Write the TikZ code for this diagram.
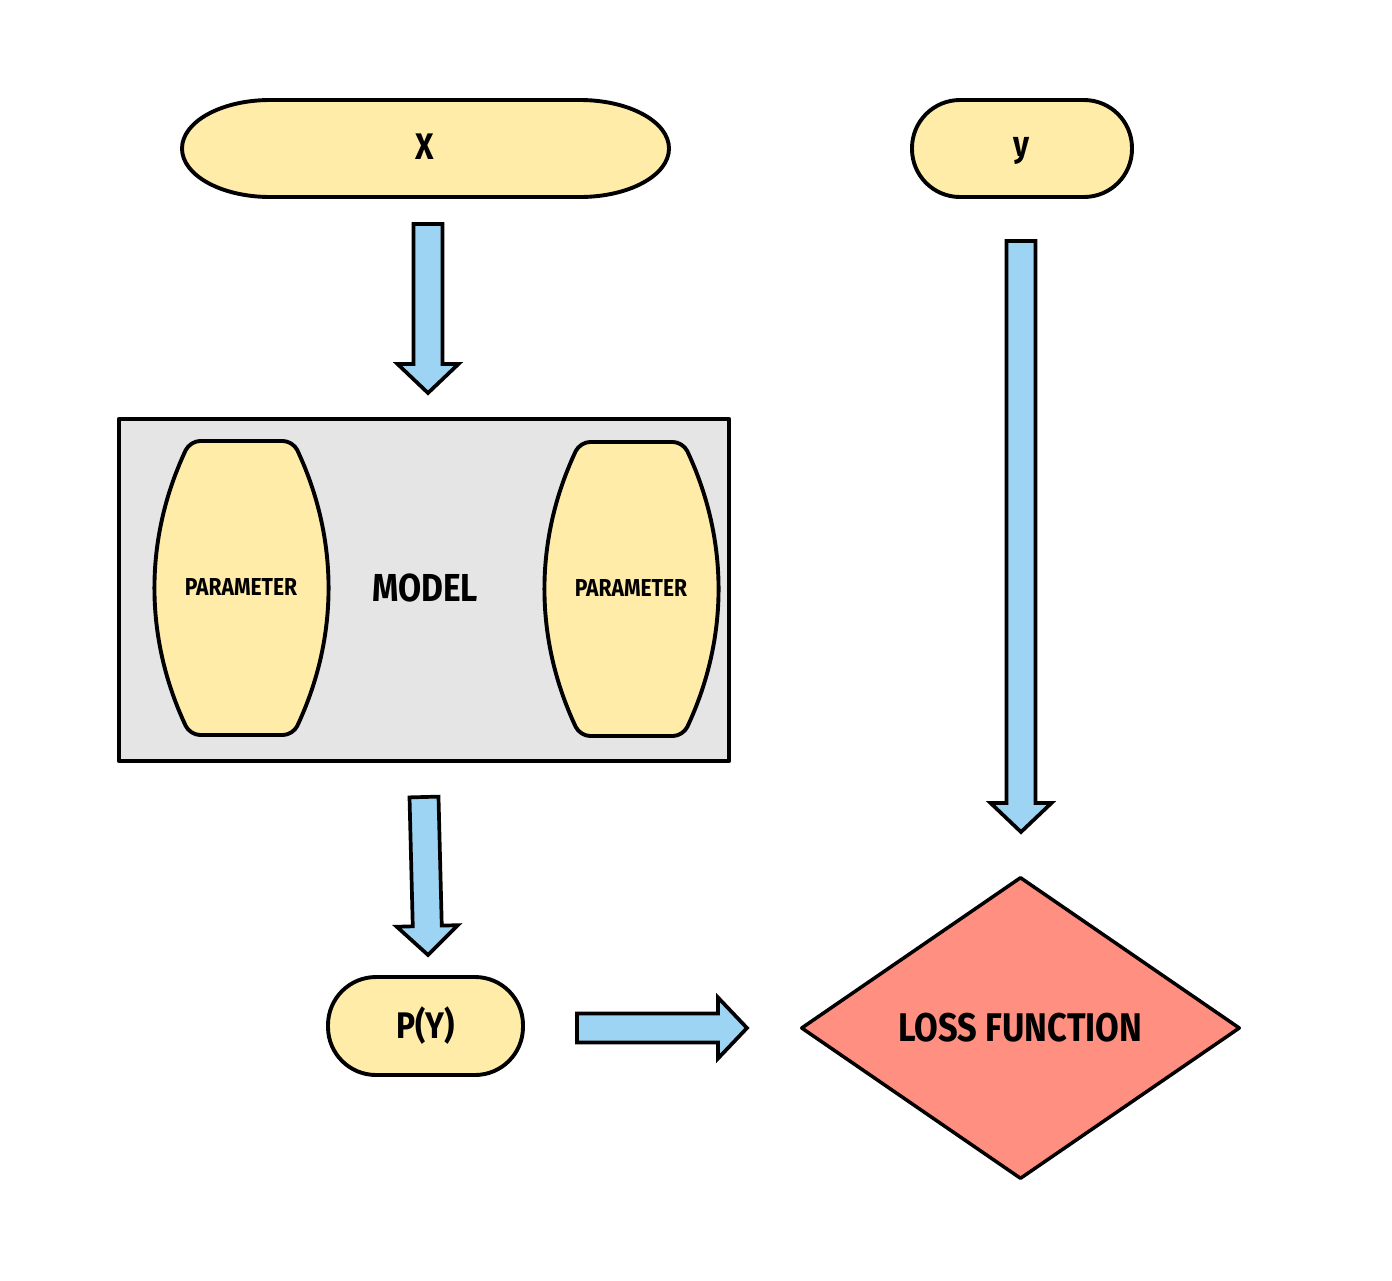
\documentclass[tikz,border=0pt]{standalone}
\usepackage{fontspec}
\setmainfont{Fira Sans}[FakeStretch=0.86]
\usetikzlibrary{shapes.geometric}
\definecolor{termfill}{HTML}{FFECA9}
\definecolor{modelfill}{HTML}{E5E5E5}
\definecolor{lossfill}{HTML}{FF8F80}
\definecolor{arrowfill}{HTML}{9DD3F3}
\tikzset{
  outline/.style={draw=black, line width=3.9pt, line join=round},
  termnode/.style={outline, fill=termfill},
  barrowstyle/.style={draw=black, line width=3.7pt, fill=arrowfill, line join=miter},
  lbl/.style={font=\bfseries\fontsize{37}{40}\selectfont},
}
% block arrow: #1 start coordinate, #2 length, #3 angle
\newcommand\blockarrowdraw[3]{%
  \begin{scope}[shift={(#1)}, rotate=#3]
    \draw[barrowstyle] (0,-14.5) -- ({#2-29},-14.5) -- ({#2-29},-30.5) -- (#2,0)
      -- ({#2-29},30.5) -- ({#2-29},14.5) -- (0,14.5) -- cycle;
  \end{scope}}
\begin{document}
\begin{tikzpicture}[x=1pt,y=-1pt]
\useasboundingbox (0,0) rectangle (1392,1280);
\fill[white] (0,0) rectangle (1392,1280);

% X terminal with elliptical ends
\draw[termnode] (270,100) -- (580,100) arc[start angle=-90, end angle=90, x radius=89, y radius=48.5]
  -- (270,197) arc[start angle=90, end angle=270, x radius=88, y radius=48.5] -- cycle;
\node[lbl] (x) at (425,147) {X};

% y terminal
\node[termnode, rounded corners=48pt, minimum width=220pt, minimum height=97pt] (y) at (1022,148.5) {};
\node[font=\bfseries\fontsize{36}{40}\selectfont] (ytxt) at (1022,151) {y};

% model box
\node[outline, line width=4.5pt, fill=modelfill, minimum width=610pt, minimum height=342pt, inner sep=0pt] (model) at (424,590) {};
\node[font=\bfseries\fontsize{39}{42}\selectfont] (modeltxt) at (425,588) {MODEL};

% parameter barrels
\draw[termnode, rounded corners=10pt] (241,441) -- (293,441)
   .. controls (339,539) and (339,637) .. (293,735) -- (190,735)
   .. controls (144,637) and (144,539) .. (190,441) -- cycle;
\node[font=\bfseries\fontsize{24.5}{27}\selectfont] (p1) at (241,587) {PARAMETER};
\draw[termnode, rounded corners=10pt] (631,442) -- (683,442)
   .. controls (729,540) and (729,638) .. (683,736) -- (580,736)
   .. controls (534,638) and (534,540) .. (580,442) -- cycle;
\node[font=\bfseries\fontsize{24.5}{27}\selectfont] (p2) at (631,588) {PARAMETER};

% P(Y) terminal
\node[termnode, rounded corners=48pt, minimum width=195pt, minimum height=98pt, lbl] (py) at (425.5,1026) {P(Y)};

% loss diamond
\node[outline, line width=3.5pt, fill=lossfill, diamond, minimum width=439pt, minimum height=302pt, inner sep=0pt,
      font=\bfseries\fontsize{40}{44}\selectfont] (loss) at (1020.5,1028) {LOSS FUNCTION};

% block arrows
\coordinate (a1) at (428,224);
\coordinate (a2) at (424,797);
\coordinate (a3) at (577,1028);
\coordinate (a4) at (1021,241);
\blockarrowdraw{a1}{169}{-90}
\blockarrowdraw{a2}{158}{-88.55}
\blockarrowdraw{a3}{170}{0}
\blockarrowdraw{a4}{591}{-90}
\end{tikzpicture}
\end{document}
